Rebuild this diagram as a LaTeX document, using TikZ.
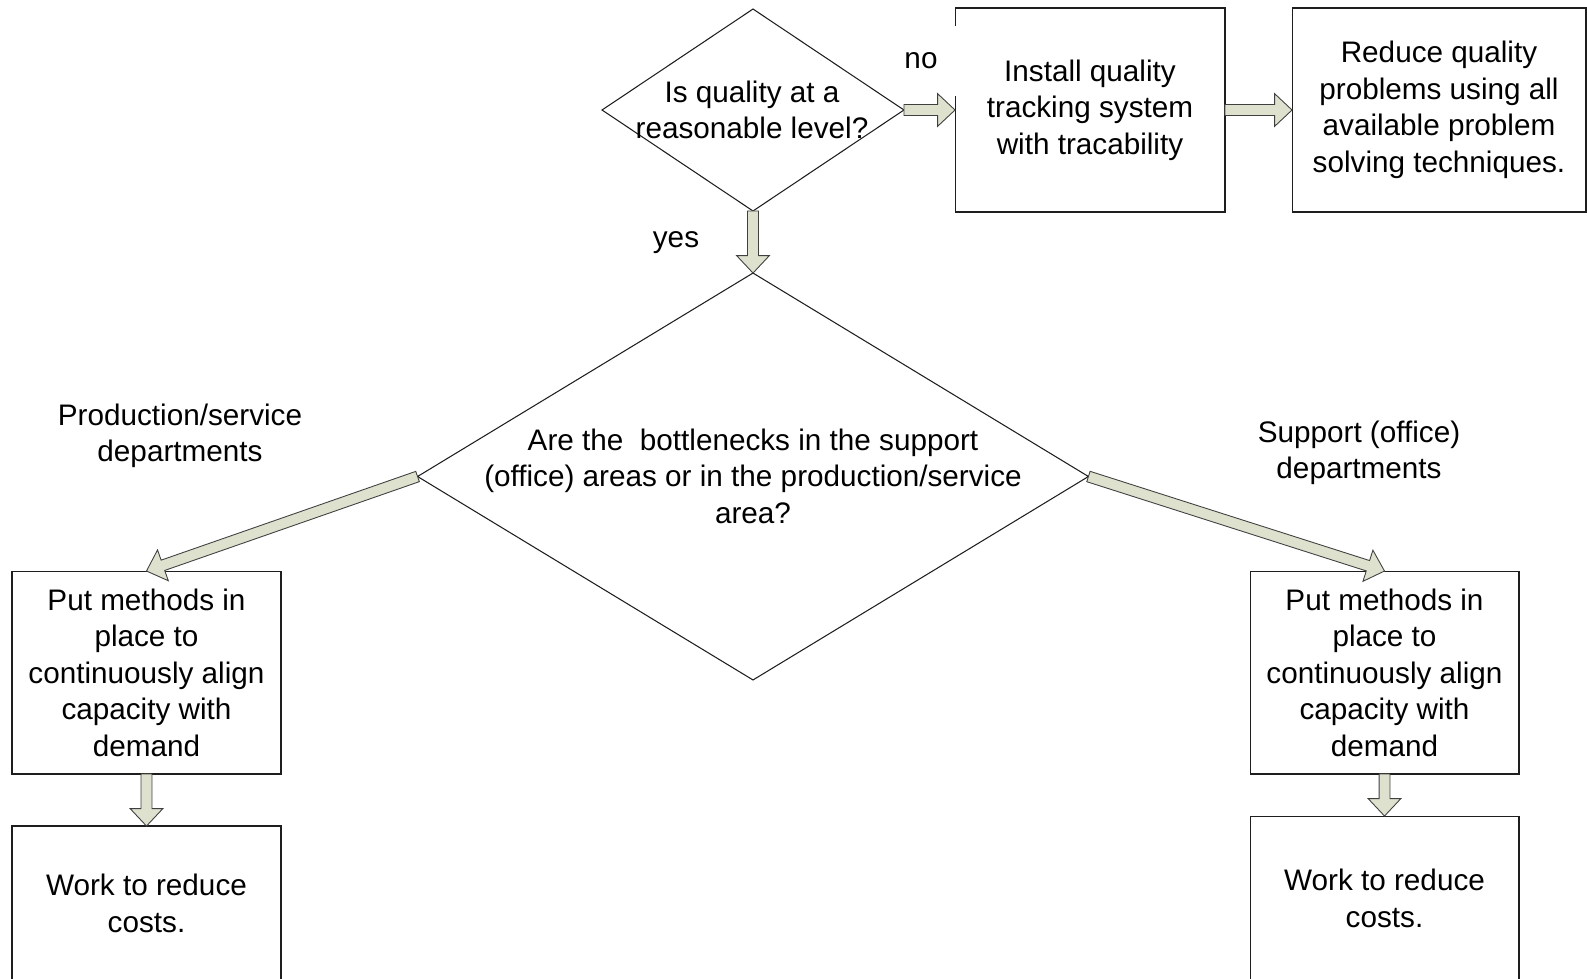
\documentclass[tikz,border=0pt]{standalone}
\usepackage{fontspec}
\setmainfont{Liberation Sans}
\usetikzlibrary{shapes.geometric,calc}
\definecolor{sage}{RGB}{221,225,205}
\definecolor{ink}{RGB}{30,30,30}
\newcommand{\chartfont}{\fontsize{16.9}{20.8}\selectfont}
\tikzset{
  box/.style={draw=ink,line width=0.6pt,rectangle,inner sep=0pt,outer sep=0pt,
    align=center,font=\chartfont},
  decision/.style={diamond,draw=ink,line width=0.6pt,inner sep=0pt,outer sep=0pt},
  tag/.style={align=center,font=\chartfont,inner sep=1pt},
  fat/.style={draw=ink!85,line width=0.5pt,fill=sage,line join=miter},
}
% block arrow from #1 to #2
\newcommand{\fatarrow}[2]{%
  \coordinate (fa-h) at ($(#2)!9.9pt!(#1)$);
  \filldraw[fat]
    ($(#1)!3.1pt!90:(#2)$) -- ($(fa-h)!3.1pt!-90:(#1)$) -- ($(fa-h)!9.3pt!-90:(#1)$)
    -- (#2) -- ($(fa-h)!9.3pt!90:(#1)$) -- ($(fa-h)!3.1pt!90:(#1)$)
    -- ($(#1)!3.1pt!-90:(#2)$) -- cycle;
}

\begin{document}
\begin{tikzpicture}[x=0.02cm,y=-0.02cm]
    \useasboundingbox (0,0) rectangle (1587,978);
    % decisions
    \node[decision,minimum width=6.04cm,minimum height=4.04cm] (q1) at (753,110) {};
    \node[tag] (q1txt) at (752,110) {Is quality at a\\reasonable level?};
    \node[decision,minimum width=13.42cm,minimum height=8.14cm] (q2) at (753,476.5) {};
    \node[tag] (q2txt) at (753,476) {Are the~ bottlenecks in the support\\(office) areas or in the production/service\\area?};
    % boxes
    \node[box,minimum width=5.4cm,minimum height=4.08cm] (track) at (1090,110) {Install quality\\tracking system\\with tracability};
    \node[box,minimum width=5.88cm,minimum height=4.08cm] (reduce) at (1439,110) {Reduce quality\\problems using all\\available problem\\solving techniques.};
    \node[box,minimum width=5.38cm,minimum height=4.06cm] (alignL) at (146.5,672.5) {Put methods in\\place to\\continuously align\\capacity with\\demand};
    \node[box,minimum width=5.38cm,minimum height=3.1cm] (costL) at (146.5,903.5) {Work to reduce\\costs.};
    \node[box,minimum width=5.38cm,minimum height=3.3cm] (costR) at (1384.5,898.5) {Work to reduce\\costs.};
    \node[box,minimum width=5.38cm,minimum height=4.06cm] (alignR) at (1384.5,672.5) {Put methods in\\place to\\continuously align\\capacity with\\demand};
    % labels
    \node[tag,fill=white,minimum width=1.5cm,minimum height=1.4cm] (lblNo) at (921,61) {no};
    \node[tag] (lblYes) at (676,243) {yes};
    \node[tag] (lblProd) at (180,436) {Production/service\\departments};
    \node[tag] (lblSupp) at (1359,453) {Support (office)\\departments};
    % arrows
    \fatarrow{q1.south}{q2.north}
    \fatarrow{q1.east}{track.west}
    \fatarrow{track.east}{reduce.west}
    \fatarrow{q2.west}{alignL.north}
    \fatarrow{q2.east}{alignR.north}
    \fatarrow{alignL.south}{costL.north}
    \fatarrow{alignR.south}{costR.north}
\end{tikzpicture}
\end{document}
